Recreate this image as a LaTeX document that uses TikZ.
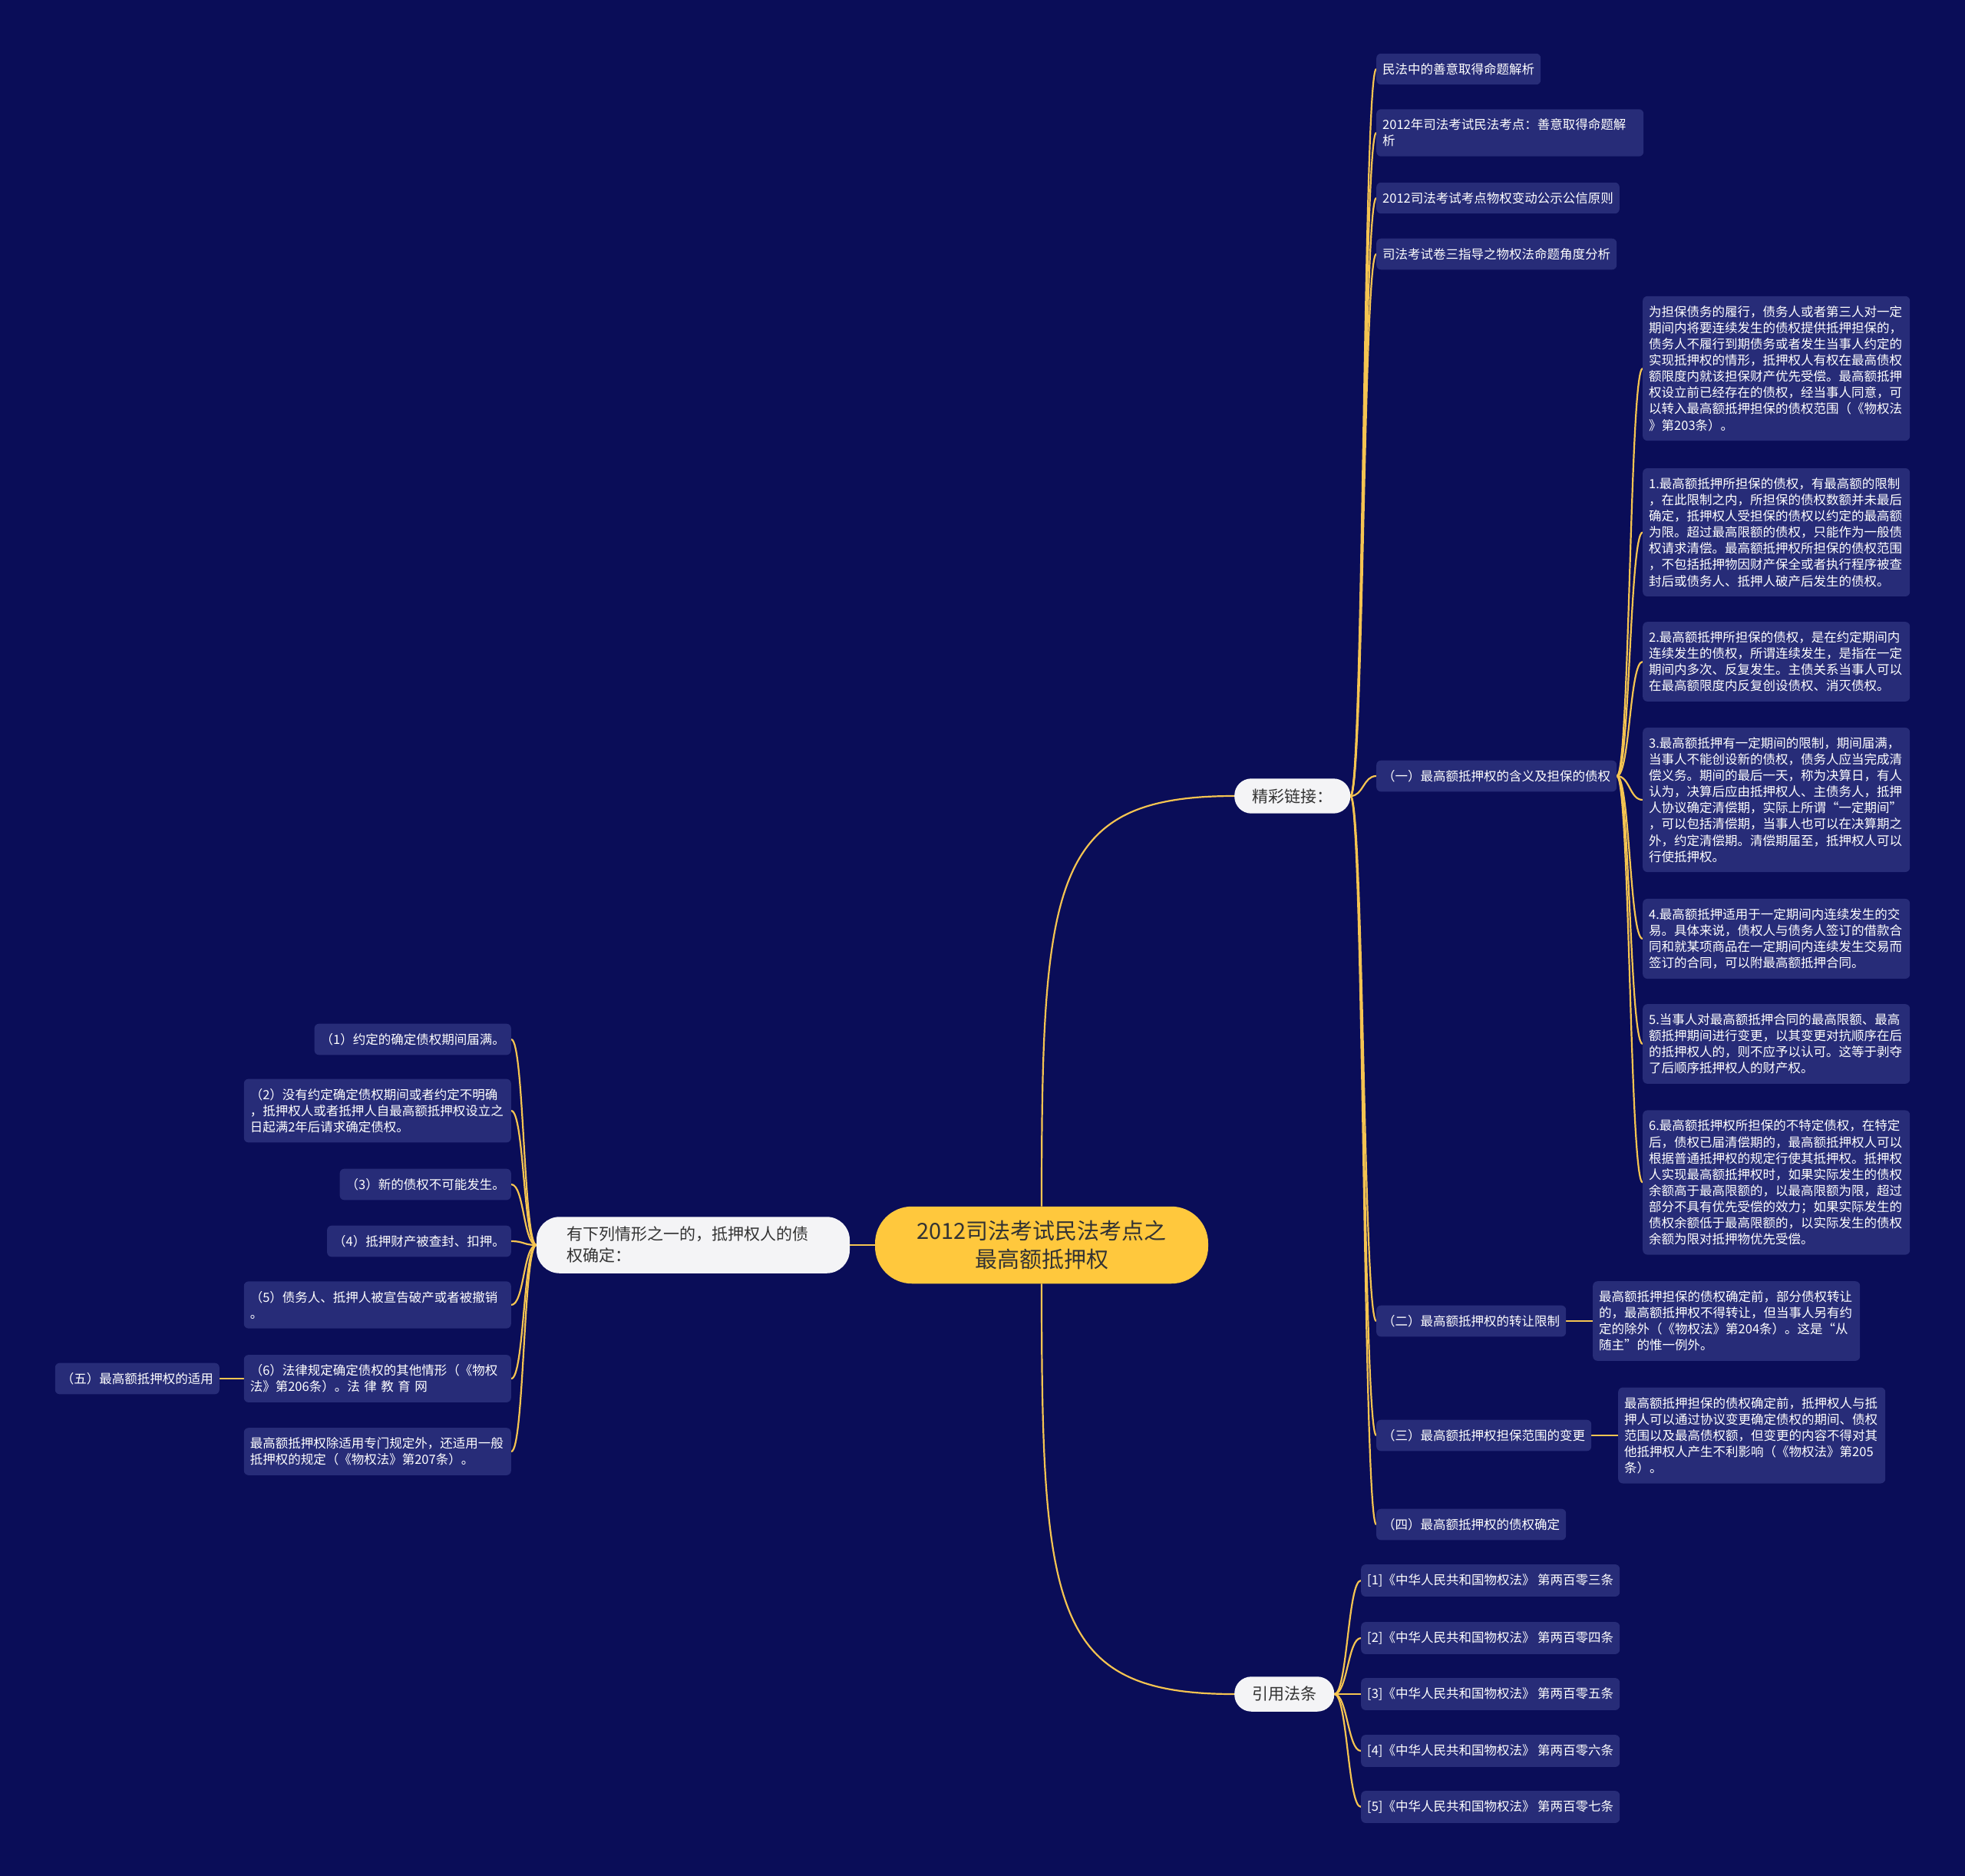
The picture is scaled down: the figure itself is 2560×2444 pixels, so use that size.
\documentclass[tikz,border=0pt]{standalone}
\usepackage{fontspec}
\setmainfont{Noto Sans CJK SC}
\usetikzlibrary{calc}
\definecolor{bgc}{HTML}{0A0D58}
\definecolor{boxc}{HTML}{272C78}
\definecolor{linec}{HTML}{F5C451}
\definecolor{rootc}{HTML}{FFC83D}
\definecolor{whitec}{HTML}{F4F4F6}
\definecolor{darktext}{HTML}{333333}
\pgfdeclarelayer{bgl}
\pgfdeclarelayer{edg}
\pgfsetlayers{bgl,edg,main}
\newcommand\rcurve[2]{\draw[conn] (#1.east) .. controls +(17,0) and +(-17,0) .. (#2.west);}
\newcommand\lcurve[2]{\draw[conn] (#1.west) .. controls +(-17,0) and +(17,0) .. (#2.east);}
\begin{document}
\begin{tikzpicture}[x=1pt,y=-1pt,
  leaf/.style={fill=boxc, text=white, rounded corners=6pt, inner xsep=8pt, inner ysep=12.5pt, font=\fontsize{16.5}{21.1}\selectfont, align=left},
  wide/.style={leaf, text width=332pt},
  lvl/.style={fill=whitec, text=darktext, rounded corners=22pt, inner xsep=23pt, inner ysep=13pt, font=\fontsize{21}{28}\selectfont, align=left},
  rootn/.style={fill=rootc, text=darktext, rounded corners=48pt, inner xsep=50pt, inner ysep=18pt, text width=334pt, align=center, font=\fontsize{29}{37.5}\selectfont},
  conn/.style={draw=linec, line width=2.2pt}
]
\begin{pgfonlayer}{bgl}
\fill[bgc] (0,0) rectangle (2560,2444);
\end{pgfonlayer}
\useasboundingbox (0,0) rectangle (2560,2444);

% root and level 1
\node[rootn] (root) at (1357,1622) {2012司法考试民法考点之\\最高额抵押权};
\node[lvl, anchor=west] (jc) at (1608,1037) {精彩链接：};
\node[lvl, anchor=west] (yy) at (1608,2207) {引用法条};
\node[lvl, text width=330pt, inner xsep=39pt, rounded corners=30pt] (lf) at (903,1622) {有下列情形之一的，抵押权人的债\\权确定：};

% right top children
\node[leaf, anchor=west] (r1) at (1793,90) {民法中的善意取得命题解析};
\node[wide, anchor=west] (r2) at (1793,173) {2012年司法考试民法考点：善意取得命题解\\析};
\node[leaf, anchor=west] (r3) at (1793,258) {2012司法考试考点物权变动公示公信原则};
\node[leaf, anchor=west] (r4) at (1793,331) {司法考试卷三指导之物权法命题角度分析};
\node[leaf, anchor=west] (y1) at (1793,1011) {（一）最高额抵押权的含义及担保的债权};
\node[leaf, anchor=west] (y2) at (1793,1721) {（二）最高额抵押权的转让限制};
\node[leaf, anchor=west] (y3) at (1793,1870) {（三）最高额抵押权担保范围的变更};
\node[leaf, anchor=west] (y4) at (1793,1986) {（四）最高额抵押权的债权确定};

% children of (一)
\node[wide, anchor=west] (a0) at (2140,480) {为担保债务的履行，债务人或者第三人对一定\\期间内将要连续发生的债权提供抵押担保的，\\债务人不履行到期债务或者发生当事人约定的\\实现抵押权的情形，抵押权人有权在最高债权\\额限度内就该担保财产优先受偿。最高额抵押\\权设立前已经存在的债权，经当事人同意，可\\以转入最高额抵押担保的债权范围（《物权法\\》第203条）。};
\node[wide, anchor=west] (a1) at (2140,693.5) {1.最高额抵押所担保的债权，有最高额的限制\\，在此限制之内，所担保的债权数额并未最后\\确定，抵押权人受担保的债权以约定的最高额\\为限。超过最高限额的债权，只能作为一般债\\权请求清偿。最高额抵押权所担保的债权范围\\，不包括抵押物因财产保全或者执行程序被查\\封后或债务人、抵押人破产后发生的债权。};
\node[wide, anchor=west] (a2) at (2140,862) {2.最高额抵押所担保的债权，是在约定期间内\\连续发生的债权，所谓连续发生，是指在一定\\期间内多次、反复发生。主债关系当事人可以\\在最高额限度内反复创设债权、消灭债权。};
\node[wide, anchor=west] (a3) at (2140,1042) {3.最高额抵押有一定期间的限制，期间届满，\\当事人不能创设新的债权，债务人应当完成清\\偿义务。期间的最后一天，称为决算日，有人\\认为，决算后应由抵押权人、主债务人，抵押\\人协议确定清偿期，实际上所谓“一定期间”\\，可以包括清偿期，当事人也可以在决算期之\\外，约定清偿期。清偿期届至，抵押权人可以\\行使抵押权。};
\node[wide, anchor=west] (a4) at (2140,1223) {4.最高额抵押适用于一定期间内连续发生的交\\易。具体来说，债权人与债务人签订的借款合\\同和就某项商品在一定期间内连续发生交易而\\签订的合同，可以附最高额抵押合同。};
\node[wide, anchor=west] (a5) at (2140,1360) {5.当事人对最高额抵押合同的最高限额、最高\\额抵押期间进行变更，以其变更对抗顺序在后\\的抵押权人的，则不应予以认可。这等于剥夺\\了后顺序抵押权人的财产权。};
\node[wide, anchor=west] (a6) at (2140,1540.5) {6.最高额抵押权所担保的不特定债权，在特定\\后，债权已届清偿期的，最高额抵押权人可以\\根据普通抵押权的规定行使其抵押权。抵押权\\人实现最高额抵押权时，如果实际发生的债权\\余额高于最高限额的，以最高限额为限，超过\\部分不具有优先受偿的效力；如果实际发生的\\债权余额低于最高限额的，以实际发生的债权\\余额为限对抵押物优先受偿。};

% children of (二), (三)
\node[wide, anchor=west] (b2) at (2075,1721) {最高额抵押担保的债权确定前，部分债权转让\\的，最高额抵押权不得转让，但当事人另有约\\定的除外（《物权法》第204条）。这是“从\\随主”的惟一例外。};
\node[wide, anchor=west] (b3) at (2108,1870) {最高额抵押担保的债权确定前，抵押权人与抵\\押人可以通过协议变更确定债权的期间、债权\\范围以及最高债权额，但变更的内容不得对其\\他抵押权人产生不利影响（《物权法》第205\\条）。};

% law references
\node[leaf, anchor=west] (f1) at (1773,2059) {[1]《中华人民共和国物权法》 第两百零三条};
\node[leaf, anchor=west] (f2) at (1773,2134) {[2]《中华人民共和国物权法》 第两百零四条};
\node[leaf, anchor=west] (f3) at (1773,2207) {[3]《中华人民共和国物权法》 第两百零五条};
\node[leaf, anchor=west] (f4) at (1773,2281) {[4]《中华人民共和国物权法》 第两百零六条};
\node[leaf, anchor=west] (f5) at (1773,2354) {[5]《中华人民共和国物权法》 第两百零七条};

% left children
\node[leaf, anchor=east] (l1) at (666,1354) {（1）约定的确定债权期间届满。};
\node[wide, anchor=east] (l2) at (666,1447) {（2）没有约定确定债权期间或者约定不明确\\，抵押权人或者抵押人自最高额抵押权设立之\\日起满2年后请求确定债权。};
\node[leaf, anchor=east] (l3) at (666,1543) {（3）新的债权不可能发生。};
\node[leaf, anchor=east] (l4) at (666,1617) {（4）抵押财产被查封、扣押。};
\node[wide, anchor=east] (l5) at (666,1700) {（5）债务人、抵押人被宣告破产或者被撤销\\。};
\node[wide, anchor=east] (l6) at (666,1796) {（6）法律规定确定债权的其他情形（《物权\\法》第206条）。法 律 教 育 网};
\node[wide, anchor=east] (l7) at (666,1891) {最高额抵押权除适用专门规定外，还适用一般\\抵押权的规定（《物权法》第207条）。};
\node[leaf, anchor=east] (wu) at (286,1796) {（五）最高额抵押权的适用};

\begin{pgfonlayer}{edg}
\draw[conn] (root.north) .. controls (1357,1143) and (1371,1037) .. (jc.west);
\draw[conn] (root.south) .. controls (1357,2101) and (1371,2207) .. (yy.west);
\draw[conn] (root.west) -- (lf.east);
\rcurve{jc}{r1}
\rcurve{jc}{r2}
\rcurve{jc}{r3}
\rcurve{jc}{r4}
\rcurve{jc}{y1}
\rcurve{jc}{y2}
\rcurve{jc}{y3}
\rcurve{jc}{y4}
\rcurve{y1}{a0}
\rcurve{y1}{a1}
\rcurve{y1}{a2}
\rcurve{y1}{a3}
\rcurve{y1}{a4}
\rcurve{y1}{a5}
\rcurve{y1}{a6}
\draw[conn] (y2.east) -- (b2.west);
\draw[conn] (y3.east) -- (b3.west);
\rcurve{yy}{f1}
\rcurve{yy}{f2}
\rcurve{yy}{f3}
\rcurve{yy}{f4}
\rcurve{yy}{f5}
\lcurve{lf}{l1}
\lcurve{lf}{l2}
\lcurve{lf}{l3}
\lcurve{lf}{l4}
\lcurve{lf}{l5}
\lcurve{lf}{l6}
\lcurve{lf}{l7}
\draw[conn] (wu.east) -- (l6.west);
\end{pgfonlayer}
\end{tikzpicture}
\end{document}
